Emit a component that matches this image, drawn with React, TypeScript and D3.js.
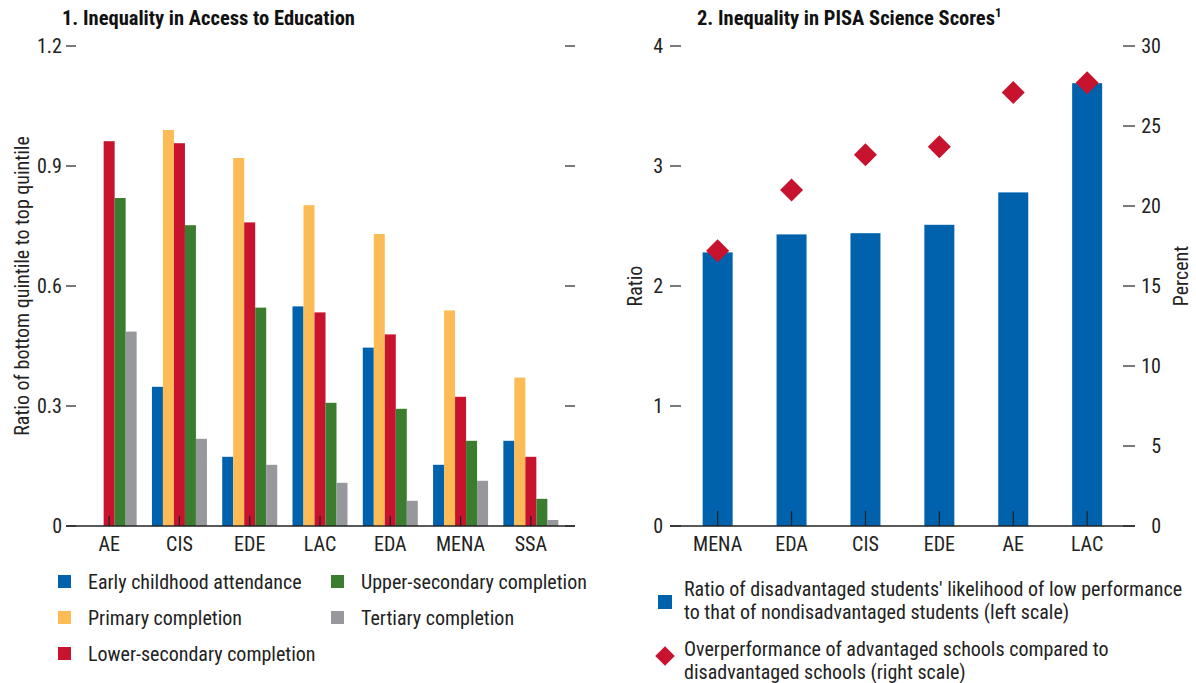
import React from 'react';
import * as d3 from 'd3';

// panel 1 data
const eduRegions = ['AE', 'CIS', 'EDE', 'LAC', 'EDA', 'MENA', 'SSA'];
const eduSeries = [
  'Early childhood attendance',
  'Primary completion',
  'Lower-secondary completion',
  'Upper-secondary completion',
  'Tertiary completion',
];
const earlyChildhood = [null, 0.348, 0.173, 0.549, 0.446, 0.153, 0.213];
const primaryCompletion = [null, 0.99, 0.92, 0.802, 0.73, 0.539, 0.371];
const lowerSecondary = [0.962, 0.957, 0.759, 0.534, 0.479, 0.323, 0.173];
const upperSecondary = [0.82, 0.752, 0.546, 0.308, 0.293, 0.213, 0.068];
const tertiary = [0.486, 0.218, 0.153, 0.108, 0.063, 0.113, 0.015];
const eduTicks = [0, 0.3, 0.6, 0.9, 1.2];

// panel 2 data
const pisaRegions = ['MENA', 'EDA', 'CIS', 'EDE', 'AE', 'LAC'];
const lowPerfRatio = [2.28, 2.43, 2.44, 2.51, 2.78, 3.69];
const overperformance = [17.2, 21.0, 23.2, 23.7, 27.1, 27.7];
const ratioTicks = [0, 1, 2, 3, 4];
const percentTicks = [0, 5, 10, 15, 20, 25, 30];

const COLORS = ['#0062AD', '#FDBB55', '#C8132F', '#3A7D2E', '#97989C'];
const BLUE = '#0062AD';
const RED = '#C8132F';
const FONT = "'Liberation Sans Narrow', 'Roboto Condensed', 'DejaVu Sans Condensed', sans-serif";
const FS = 20;

function EducationPanel() {
  const baseY = 526;
  const axisL = 66;
  const axisR = 575;
  const x = d3.scaleBand().domain(eduRegions).range([74, 566]);
  const y = d3.scaleLinear().domain([0, 1.2]).range([baseY, 46]);
  const seriesValues = [earlyChildhood, primaryCompletion, lowerSecondary, upperSecondary, tertiary];
  const groupW = 55;
  const x1 = d3
    .scaleBand()
    .domain(eduSeries)
    .range([(x.bandwidth() - groupW) / 2, (x.bandwidth() + groupW) / 2]);

  const legendPos = [
    [58, 0], [58, 1], [58, 2], [331, 0], [331, 1],
  ];

  return (
    <g>
      <text x={62} y={25} fontWeight="bold" fontSize={20.5} fill="#111">
        1. Inequality in Access to Education
      </text>
      {eduTicks.map((t) => (
        <g key={t}>
          <line x1={axisL} x2={axisL + 10} y1={y(t)} y2={y(t)} stroke="#222" strokeWidth={1.2} />
          <line x1={axisR - 10} x2={axisR} y1={y(t)} y2={y(t)} stroke="#222" strokeWidth={1.2} />
          <text x={62} y={y(t)} dy="0.35em" textAnchor="end" fontSize={FS} fill="#222">
            {t === 0 ? '0' : d3.format('.1f')(t)}
          </text>
        </g>
      ))}
      <text
        transform={`translate(29,286) rotate(-90)`}
        textAnchor="middle"
        fontSize={FS}
        fill="#222"
      >
        Ratio of bottom quintile to top quintile
      </text>
      {eduRegions.map((r, i) => (
        <g key={r} transform={`translate(${x(r)},0)`}>
          {seriesValues.map((vals, s) =>
            vals[i] == null ? null : (
              <rect
                key={s}
                x={x1(eduSeries[s])}
                width={x1.bandwidth()}
                y={y(vals[i] as number)}
                height={baseY - y(vals[i] as number)}
                fill={COLORS[s]}
              />
            )
          )}
        </g>
      ))}
      <line x1={axisL} x2={axisR} y1={baseY} y2={baseY} stroke="#222" strokeWidth={1.5} />
      {eduRegions.map((r) => {
        const cx = (x(r) as number) + x.bandwidth() / 2;
        return (
          <g key={r}>
            <line x1={cx} x2={cx} y1={baseY} y2={baseY - 10} stroke="#222" strokeWidth={1.2} />
            <text x={cx} y={551} textAnchor="middle" fontSize={FS} fill="#222">
              {r}
            </text>
          </g>
        );
      })}
      {eduSeries.map((s, i) => {
        const [lx, row] = legendPos[i];
        const cy = 582 + row * 36;
        return (
          <g key={s}>
            <rect x={lx} y={cy - 7} width={13} height={13} fill={COLORS[i]} />
            <text x={lx + 30} y={cy} dy="0.35em" fontSize={FS} fill="#222">
              {s}
            </text>
          </g>
        );
      })}
    </g>
  );
}

function PisaPanel() {
  const baseY = 526;
  const axisL = 670;
  const axisR = 1135;
  const x = d3.scaleBand().domain(pisaRegions).range([680.7, 1124.1]);
  const yL = d3.scaleLinear().domain([0, 4]).range([baseY, 46]);
  const yR = d3.scaleLinear().domain([0, 30]).range([baseY, 46]);
  const barW = 30;
  const diamond = d3.symbol().type(d3.symbolSquare).size(265)();

  return (
    <g>
      <text x={697} y={25} fontWeight="bold" fontSize={20.5} fill="#111">
        2. Inequality in PISA Science Scores
        <tspan fontSize={13} dy={-8}>1</tspan>
      </text>
      {ratioTicks.map((t) => (
        <g key={t}>
          <line x1={axisL} x2={axisL + 11} y1={yL(t)} y2={yL(t)} stroke="#222" strokeWidth={1.2} />
          <text x={663} y={yL(t)} dy="0.35em" textAnchor="end" fontSize={FS} fill="#222">
            {t}
          </text>
        </g>
      ))}
      {percentTicks.map((t) => (
        <g key={t}>
          <line x1={axisR - 12} x2={axisR} y1={yR(t)} y2={yR(t)} stroke="#222" strokeWidth={1.2} />
          <text x={1161} y={yR(t)} dy="0.35em" textAnchor="end" fontSize={FS} fill="#222">
            {t}
          </text>
        </g>
      ))}
      <text transform="translate(642,286) rotate(-90)" textAnchor="middle" fontSize={FS} fill="#222">
        Ratio
      </text>
      <text transform="translate(1188,276) rotate(-90)" textAnchor="middle" fontSize={FS} fill="#222">
        Percent
      </text>
      {pisaRegions.map((r, i) => {
        const cx = (x(r) as number) + x.bandwidth() / 2;
        return (
          <rect
            key={r}
            x={cx - barW / 2}
            width={barW}
            y={yL(lowPerfRatio[i])}
            height={baseY - yL(lowPerfRatio[i])}
            fill={BLUE}
          />
        );
      })}
      <line x1={axisL} x2={axisR} y1={baseY} y2={baseY} stroke="#222" strokeWidth={1.5} />
      {pisaRegions.map((r) => {
        const cx = (x(r) as number) + x.bandwidth() / 2;
        return (
          <g key={r}>
            <line x1={cx} x2={cx} y1={baseY} y2={baseY - 15} stroke="#222" strokeWidth={1.2} />
            <text x={cx} y={551} textAnchor="middle" fontSize={FS} fill="#222">
              {r}
            </text>
          </g>
        );
      })}
      {pisaRegions.map((r, i) => {
        const cx = (x(r) as number) + x.bandwidth() / 2;
        return (
          <path
            key={r}
            d={diamond as string}
            transform={`translate(${cx},${yR(overperformance[i])}) rotate(45)`}
            fill={RED}
          />
        );
      })}
      <rect x={658} y={595} width={14} height={14} fill={BLUE} />
      <text x={684} fontSize={FS} fill="#222">
        <tspan x={684} y={596}>Ratio of disadvantaged students' likelihood of low performance</tspan>
        <tspan x={684} y={619}>to that of nondisadvantaged students (left scale)</tspan>
      </text>
      <path d={diamond as string} transform="translate(665,656) rotate(45) scale(0.85)" fill={RED} />
      <text x={684} fontSize={FS} fill="#222">
        <tspan x={684} y={656}>Overperformance of advantaged schools compared to</tspan>
        <tspan x={684} y={679}>disadvantaged schools (right scale)</tspan>
      </text>
    </g>
  );
}

export default function App() {
  return (
    <svg
      width={1196}
      height={683}
      style={{ position: 'absolute', left: 0, top: 0, background: '#fff', fontFamily: FONT }}
    >
      <EducationPanel />
      <PisaPanel />
    </svg>
  );
}
